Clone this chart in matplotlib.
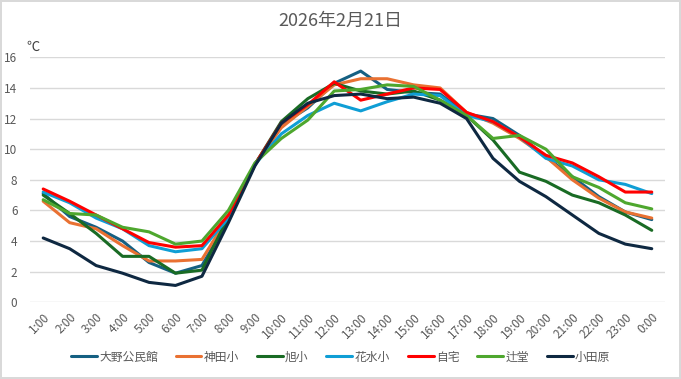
import matplotlib.pyplot as plt

plt.rcParams['font.family'] = ['Noto Sans CJK JP', 'DejaVu Sans']

hours = ["1:00", "2:00", "3:00", "4:00", "5:00", "6:00", "7:00", "8:00",
         "9:00", "10:00", "11:00", "12:00", "13:00", "14:00", "15:00", "16:00",
         "17:00", "18:00", "19:00", "20:00", "21:00", "22:00", "23:00", "0:00"]

oono = [7.1, 5.6, 4.9, 4.0, 2.6, 1.9, 2.4, 5.4, 9.0, 11.6, 12.7, 14.3,
        15.1, 13.9, 13.7, 13.6, 12.3, 12.0, 10.9, 9.5, 8.2, 6.9, 5.9, 5.4]
kanda = [6.6, 5.2, 4.8, 3.7, 2.7, 2.7, 2.8, 5.6, 9.0, 11.4, 12.8, 14.2,
         14.6, 14.6, 14.2, 14.0, 12.4, 11.7, 10.7, 9.5, 8.0, 6.8, 5.9, 5.5]
asahi = [7.0, 5.8, 4.5, 3.0, 3.0, 1.9, 2.1, 5.6, 9.0, 11.8, 13.3, 14.3,
         13.8, 13.6, 13.8, 13.2, 12.2, 10.6, 8.5, 7.9, 7.0, 6.5, 5.7, 4.7]
hanamizu = [7.2, 6.5, 5.5, 4.8, 3.7, 3.3, 3.5, 5.5, 9.0, 11.0, 12.2, 13.0,
            12.5, 13.1, 13.6, 13.5, 12.2, 11.8, 10.8, 9.4, 8.9, 8.0, 7.7, 7.1]
jitaku = [7.4, 6.6, 5.7, 4.8, 3.9, 3.6, 3.7, 5.7, 9.0, 11.7, 12.9, 14.4,
          13.2, 13.6, 14.0, 13.9, 12.4, 11.8, 10.8, 9.6, 9.1, 8.2, 7.2, 7.2]
tsujido = [6.7, 5.8, 5.7, 4.9, 4.6, 3.8, 4.0, 6.0, 9.1, 10.7, 11.9, 13.8,
           13.9, 14.2, 14.1, 13.2, 12.2, 10.7, 10.9, 10.0, 8.2, 7.5, 6.5, 6.1]
odawara = [4.2, 3.5, 2.4, 1.9, 1.3, 1.1, 1.7, 5.2, 8.9, 11.7, 13.0, 13.5,
           13.6, 13.3, 13.4, 13.0, 12.0, 9.4, 7.9, 6.9, 5.7, 4.5, 3.8, 3.5]

names = ["大野公民館", "神田小", "旭小", "花水小", "自宅", "辻堂", "小田原"]
series = [oono, kanda, asahi, hanamizu, jitaku, tsujido, odawara]
colors = ["#156082", "#E97132", "#196B24", "#0F9ED5", "#FF0000", "#4EA72E", "#0E2841"]

fig = plt.figure(figsize=(6.81, 3.79), dpi=100)
fig.patch.set_edgecolor("#D9D9D9")
fig.patch.set_linewidth(1.5)
ax = fig.add_axes([0.044, 0.2024, 0.9325, 0.6464])

x = list(range(len(hours)))
for name, vals, col in zip(names, series, colors):
    ax.plot(x, vals, color=col, linewidth=2.2, label=name,
            solid_joinstyle="round", solid_capstyle="round")

ax.set_xlim(-0.5, len(hours) - 0.5)
ax.set_ylim(0, 16)
ax.set_yticks(range(0, 17, 2))
ax.set_xticks(x)
ax.set_xticklabels(hours, rotation=45, ha="right", va="top", rotation_mode="anchor")
ax.tick_params(axis="both", length=0, labelsize=8.5, labelcolor="#595959")
ax.tick_params(axis="y", pad=9)
ax.tick_params(axis="x", pad=6)
ax.grid(axis="y", color="#D9D9D9", linewidth=1)
ax.set_axisbelow(True)
for s in ax.spines.values():
    s.set_visible(False)

fig.text(0.5, 0.945, "2026年2月21日", ha="center", va="center",
         fontsize=13, color="#595959")
fig.text(0.038, 0.875, "℃", ha="left", va="center", fontsize=9.5, color="#404040")

fig.legend(loc="center", bbox_to_anchor=(0.5, 0.058), ncol=7, frameon=False,
           fontsize=8.5, labelcolor="#595959", handlelength=2.2,
           handletextpad=0.2, columnspacing=1.5)

plt.savefig("out.png", dpi=100)
